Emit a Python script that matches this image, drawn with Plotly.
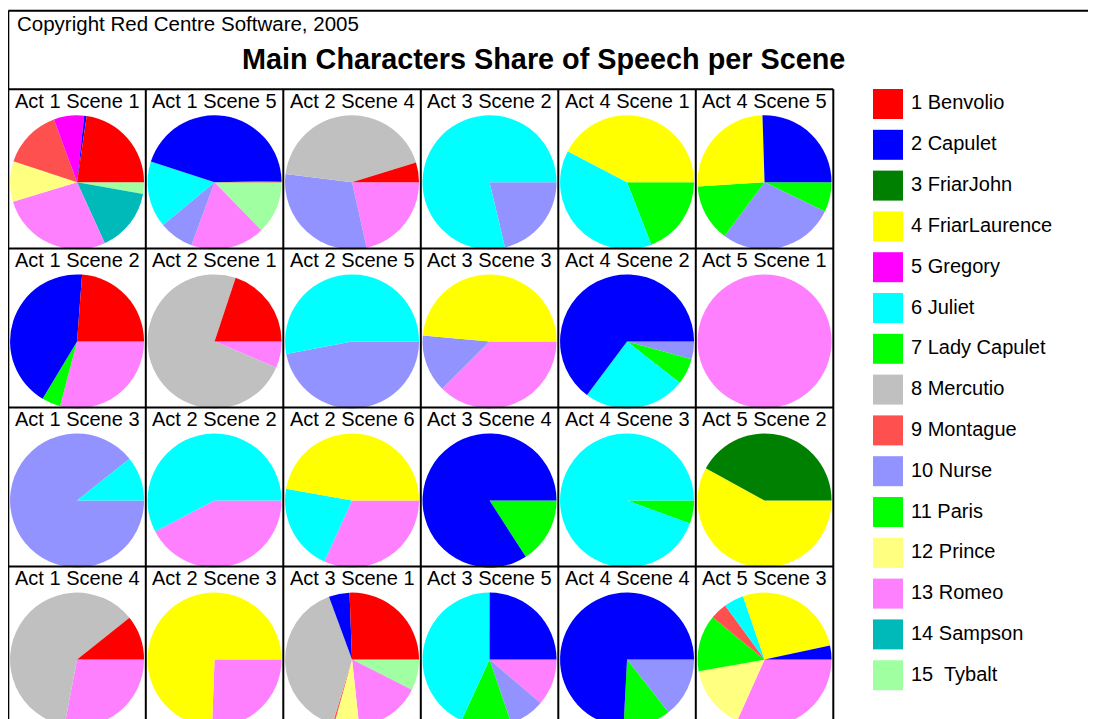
import plotly.graph_objects as go

# ---------------- data ----------------
characters = ["Benvolio", "Capulet", "FriarJohn", "FriarLaurence", "Gregory", "Juliet",
              "Lady Capulet", "Mercutio", "Montague", "Nurse", "Paris", "Prince",
              "Romeo", "Sampson", "Tybalt"]
legend_labels = ["1 Benvolio", "2 Capulet", "3 FriarJohn", "4 FriarLaurence", "5 Gregory",
                 "6 Juliet", "7 Lady Capulet", "8 Mercutio", "9 Montague", "10 Nurse",
                 "11 Paris", "12 Prince", "13 Romeo", "14 Sampson", "15  Tybalt"]
colors = ["#FF0000", "#0000FF", "#008000", "#FFFF00", "#FF00FF", "#00FFFF", "#00FF00",
          "#C0C0C0", "#FF5050", "#9393FF", "#00FF00", "#FFFF80", "#FF80FF", "#00B9B9",
          "#A0FFA0"]

scenes = ["Act 1 Scene 1", "Act 1 Scene 2", "Act 1 Scene 3", "Act 1 Scene 4",
          "Act 1 Scene 5", "Act 2 Scene 1", "Act 2 Scene 2", "Act 2 Scene 3",
          "Act 2 Scene 4", "Act 2 Scene 5", "Act 2 Scene 6", "Act 3 Scene 1",
          "Act 3 Scene 2", "Act 3 Scene 3", "Act 3 Scene 4", "Act 3 Scene 5",
          "Act 4 Scene 1", "Act 4 Scene 2", "Act 4 Scene 3", "Act 4 Scene 4",
          "Act 4 Scene 5", "Act 5 Scene 1", "Act 5 Scene 2", "Act 5 Scene 3"]

# share of speech (%) per scene, one series per character
benvolio      = [22.7, 23.8, 0, 10.7, 0.3, 19.9, 0, 0, 4.8, 0, 0, 25.6, 0, 0, 0, 0, 0, 0, 0, 0, 0, 0, 0, 0]
capulet       = [0.6, 42.6, 0, 0, 44.7, 0, 0, 0, 0, 0, 0, 5.0, 0, 0, 84.1, 25.0, 0, 64.8, 0, 74.1, 25.5, 0, 0, 3.4]
friar_john    = [0, 0, 0, 0, 0, 0, 0, 0, 0, 0, 0, 0, 0, 0, 0, 0, 0, 0, 0, 0, 0, 0, 42.0, 0]
friar_laurence = [0, 0, 0, 0, 0, 0, 0, 74.4, 0, 0, 47.2, 0, 0, 48.6, 0, 0, 42.3, 0, 0, 0, 25.5, 0, 58.0, 26.8]
gregory       = [7.3, 0, 0, 0, 0, 0, 0, 0, 0, 0, 0, 0, 0, 0, 0, 0, 0, 0, 0, 0, 0, 0, 0, 0]
juliet        = [0, 0, 10.7, 0, 16.0, 0, 57.6, 0, 0, 53.0, 21.0, 0, 78.7, 0, 0, 43.2, 38.6, 24.6, 94.4, 0, 0, 0, 0, 4.8]
lady_capulet  = [0, 0, 0, 0, 0, 0, 0, 0, 0, 0, 0, 0, 0, 0, 0, 12.1, 0, 6.3, 5.6, 11.4, 13.8, 0, 0, 0]
mercutio      = [0, 0, 0, 61.3, 0, 73.7, 0, 0, 43.2, 0, 0, 39.7, 0, 0, 0, 0, 0, 0, 0, 0, 0, 0, 0, 0]
montague      = [14.3, 0, 0, 0, 0, 0, 0, 0, 0, 0, 0, 0.4, 0, 0, 0, 0, 0, 0, 0, 0, 0, 0, 0, 4.1]
nurse         = [0, 0, 89.3, 0, 8.4, 0, 0.2, 0, 30.5, 47.0, 0, 0, 21.3, 13.9, 0, 8.6, 0, 4.3, 0, 14.4, 28.0, 0, 0, 0]
paris         = [0, 4.5, 0, 0, 0, 0, 0, 0, 0, 0, 0, 0, 0, 0, 15.9, 0, 19.1, 0, 0, 0, 7.2, 0, 0, 13.7]
prince        = [9.8, 0, 0, 0, 0, 0, 0, 0, 0, 0, 0, 6.0, 0, 0, 0, 0, 0, 0, 0, 0, 0, 0, 0, 15.5]
romeo         = [27.1, 29.1, 0, 28.0, 17.9, 6.4, 42.2, 25.6, 21.5, 0, 31.8, 15.9, 0, 37.5, 0, 11.2, 0, 0, 0, 0, 0, 100.0, 0, 31.7]
sampson       = [15.4, 0, 0, 0, 0, 0, 0, 0, 0, 0, 0, 0, 0, 0, 0, 0, 0, 0, 0, 0, 0, 0, 0, 0]
tybalt        = [2.8, 0, 0, 0, 12.7, 0, 0, 0, 0, 0, 0, 7.4, 0, 0, 0, 0, 0, 0, 0, 0, 0, 0, 0, 0]

series = [benvolio, capulet, friar_john, friar_laurence, gregory, juliet, lady_capulet,
          mercutio, montague, nurse, paris, prince, romeo, sampson, tybalt]

title_text = "Main Characters Share of Speech per Scene"
copyright_text = "Copyright Red Centre Software, 2005"

# ---------------- layout geometry ----------------
W, H = 1096, 719
OFF = 8.0  # page margin around the figure
FONT = "Liberation Sans, Arial, sans-serif"
GRID_L, GRID_T = 8.3, 89.3
CELL_W, CELL_H = 137.5, 159.1
NCOL, NROW = 6, 4


def px(x):
    return (x - OFF) / W


def py(y):
    return 1 - (y - OFF) / H


fig = go.Figure()
annotations = []
shapes = []

for j, scene in enumerate(scenes):
    col, row = j // NROW, j % NROW
    left = GRID_L + col * CELL_W
    top = GRID_T + row * CELL_H
    labs, vals, cols = [], [], []
    for k, name in enumerate(characters):
        v = series[k][j]
        if v > 0:
            labs.append(name)
            vals.append(v)
            cols.append(colors[k])
    # slices run counter-clockwise from 3 o'clock: draw reversed order clockwise
    labs, vals, cols = labs[::-1], vals[::-1], cols[::-1]
    y0 = max(0.0, py(top + 26 + 134))
    y1 = py(top + 26)
    fig.add_trace(go.Pie(
        labels=labs, values=vals, sort=False, direction="clockwise",
        rotation=90, textinfo="none", showlegend=False,
        marker=dict(colors=cols, line=dict(width=0)),
        domain=dict(x=[px(left + 1), px(left + CELL_W - 1)], y=[y0, y1]),
        name=scene, hovertemplate="%{label}: %{value}%<extra>" + scene + "</extra>",
    ))
    annotations.append(dict(
        text=scene, x=px(left + CELL_W / 2), y=py(top + 11.5), xref="paper", yref="paper",
        xanchor="center", yanchor="middle", showarrow=False,
        font=dict(family=FONT, size=20, color="black"),
    ))

# grid lines
line_style = dict(color="black", width=2)
for c in range(NCOL + 1):
    x = GRID_L + c * CELL_W
    shapes.append(dict(type="line", xref="paper", yref="paper", x0=px(x), x1=px(x),
                       y0=py(GRID_T), y1=0, line=line_style, layer="above"))
for r in range(NROW + 1):
    y = GRID_T + r * CELL_H
    if y > H + OFF:
        continue
    shapes.append(dict(type="line", xref="paper", yref="paper", x0=px(GRID_L),
                       x1=px(GRID_L + NCOL * CELL_W), y0=py(y), y1=py(y),
                       line=line_style, layer="above"))
# outer frame
shapes.append(dict(type="line", xref="paper", yref="paper", x0=px(GRID_L), x1=1,
                   y0=py(10.7), y1=py(10.7), line=line_style))
shapes.append(dict(type="line", xref="paper", yref="paper", x0=px(GRID_L), x1=px(GRID_L),
                   y0=py(10.7), y1=py(GRID_T), line=line_style))

# legend
for k, lab in enumerate(legend_labels):
    yc = 104 + k * 40.8
    shapes.append(dict(type="rect", xref="paper", yref="paper",
                       x0=px(873), x1=px(903), y0=py(yc + 15), y1=py(yc - 15),
                       fillcolor=colors[k], line=dict(width=0)))
    annotations.append(dict(
        text=lab, x=px(909), y=py(yc - 1.5), xref="paper", yref="paper",
        xanchor="left", yanchor="middle", showarrow=False,
        font=dict(family=FONT, size=20, color="black"),
    ))

annotations.append(dict(
    text=copyright_text, x=px(15), y=py(24), xref="paper", yref="paper",
    xanchor="left", yanchor="middle", showarrow=False,
    font=dict(family=FONT, size=20.5, color="black"),
))
annotations.append(dict(
    text="<b>" + title_text + "</b>", x=px(543), y=py(59.5), xref="paper", yref="paper",
    xanchor="center", yanchor="middle", showarrow=False,
    font=dict(family=FONT, size=28.8, color="black"),
))

fig.update_layout(
    width=W, height=H, margin=dict(l=0, r=0, t=0, b=0),
    paper_bgcolor="white", plot_bgcolor="white",
    annotations=annotations, shapes=shapes, showlegend=False,
)

fig.write_html("out.html")
